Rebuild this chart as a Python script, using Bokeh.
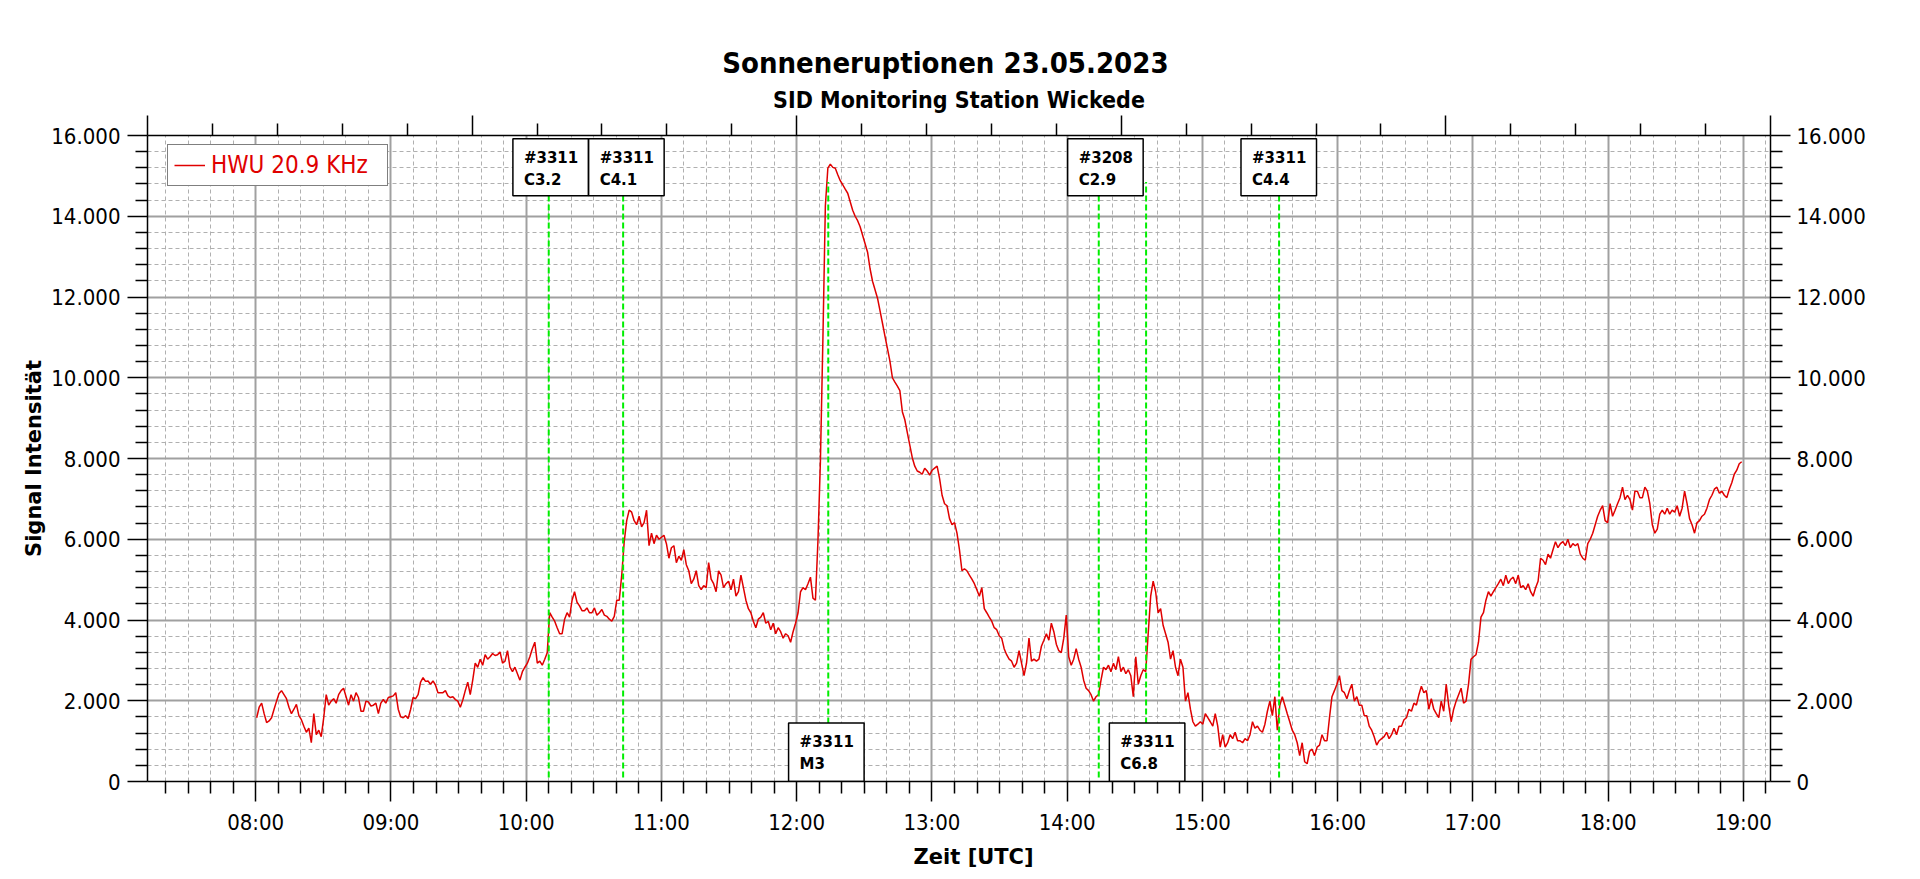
import numpy as np
from bokeh.plotting import figure
from bokeh.models import (Range1d, LinearAxis, FixedTicker, Legend, LegendItem, Title,
                          ColumnDataSource)
from bokeh.core.properties import value
from bokeh.embed import file_html
from bokeh.resources import INLINE

FONT = "DejaVu Sans Condensed"
BFONT = "DejaVu Sans"
RED = "#e00000"
GREEN = "#00ee00"

# ---------------- data ----------------
# HWU 20.9 kHz signal, sampled every ~66 s starting 08:00:26 UTC
sample_start = "08:00:26"
sample_step_s = 66.1
signal_hwu = [
    1580, 1840, 1940, 1680, 1460, 1500, 1580, 1790, 1990, 2180,
    2250, 2150, 2050, 1840, 1680, 1790, 1910, 1630, 1530, 1370,
    1220, 1320, 960, 1680, 1160, 1270, 1110, 1580, 2150, 1890,
    1990, 2050, 1940, 2150, 2250, 2310, 2100, 1890, 2150, 1990,
    2200, 2080, 1740, 1740, 1990, 1970, 1870, 1890, 1940, 1680,
    1940, 2030, 1940, 2080, 2100, 2120, 2200, 1790, 1600, 1580,
    1630, 1560, 1790, 2080, 2050, 2150, 2460, 2570, 2480, 2490,
    2410, 2490, 2390, 2200, 2200, 2200, 2250, 2120, 2080, 2100,
    2030, 1990, 1840, 2020, 2250, 2460, 2150, 2510, 2930, 2830,
    3030, 2880, 3140, 3030, 3090, 3170, 3120, 3140, 3210, 2930,
    2980, 3240, 2830, 2720, 2830, 2670, 2510, 2720, 2830, 2930,
    3090, 3290, 3450, 2930, 2980, 2880, 3030, 3190, 4180, 4070,
    3970, 3810, 3660, 3660, 4020, 4180, 4070, 4490, 4700, 4440,
    4350, 4230, 4230, 4300, 4180, 4180, 4300, 4120, 4180, 4260,
    4120, 4090, 4020, 3970, 4090, 4490, 4490, 5110, 5940, 6460,
    6720, 6670, 6460, 6360, 6570, 6310, 6410, 6720, 5840, 6150,
    5890, 6100, 6000, 6050, 6100, 5890, 5530, 5790, 5840, 5420,
    5580, 5480, 5740, 5370, 5220, 4900, 5010, 5220, 4850, 4750,
    4850, 4800, 5420, 5010, 4900, 4700, 5220, 5110, 4800, 4900,
    4960, 4750, 5010, 4590, 4700, 5110, 4800, 4490, 4280, 4180,
    3970, 3810, 4020, 4070, 4180, 3920, 3970, 3760, 3920, 3660,
    3810, 3710, 3550, 3660, 3610, 3450, 3710, 3920, 4180, 4700,
    4800, 4750, 4900, 5060, 4540, 4490, 5940, 7920, 10930, 14260,
    15190, 15290, 15210, 15190, 15030, 14880, 14780, 14670, 14570, 14360,
    14150, 14000, 13890, 13740, 13530, 13320, 13110, 12700, 12390, 12180,
    11970, 11660, 11350, 11030, 10720, 10410, 10000, 9890, 9790, 9680,
    9160, 8960, 8640, 8330, 8020, 7810, 7690, 7660, 7610, 7760,
    7690, 7590, 7710, 7760, 7810, 7500, 7090, 6880, 6830, 6510,
    6360, 6410, 6150, 5740, 5220, 5270, 5220, 5110, 5010, 4900,
    4750, 4590, 4800, 4280, 4180, 4070, 3970, 3810, 3760, 3610,
    3550, 3290, 3140, 3030, 2980, 2830, 2930, 3240, 2930, 2620,
    2930, 3550, 2980, 3030, 2980, 3030, 3350, 3500, 3660, 3500,
    3920, 3710, 3400, 3240, 3190, 3550, 4120, 3090, 2880, 3030,
    3290, 3030, 2830, 2510, 2310, 2250, 2150, 1990, 2100, 2150,
    2510, 2830, 2770, 2880, 2720, 2930, 2770, 3090, 2720, 2830,
    2670, 2770, 2620, 2100, 3090, 2410, 2620, 2770, 2720, 3660,
    4590, 4960, 4700, 4180, 4280, 3870, 3660, 3450, 3030, 3240,
    2830, 2620, 3030, 2830, 1990, 2200, 1790, 1480, 1370, 1420,
    1480, 1420, 1680, 1580, 1480, 1370, 1680, 1370, 850, 1160,
    850, 960, 1160, 1060, 1220, 1010, 1010, 960, 1060, 1010,
    1160, 1480, 1320, 1370, 1270, 1220, 1420, 1740, 1990, 1630,
    2100, 1270, 1890, 2100, 1890, 1680, 1480, 1270, 1160, 960,
    640, 960, 490, 440, 750, 800, 640, 850, 900, 1160,
    1010, 1010, 1580, 2100, 2250, 2410, 2620, 2250, 2200, 2050,
    2250, 2410, 1990, 2100, 1890, 1890, 1630, 1630, 1370, 1270,
    1110, 900, 1010, 1060, 1110, 1220, 1060, 1160, 1320, 1160,
    1370, 1370, 1530, 1580, 1790, 1740, 1940, 1890, 2150, 2360,
    2200, 2250, 1790, 2050, 1790, 1680, 1580, 1990, 1740, 2410,
    1890, 1480, 1790, 1990, 2150, 2310, 1940, 1990, 2410, 3030,
    3090, 3140, 3450, 4070, 4180, 4490, 4700, 4590, 4700, 4800,
    4900, 5010, 4850, 5110, 4900, 5010, 5060, 4900, 5110, 4800,
    4850, 4750, 4900, 4700, 4590, 4800, 4960, 5530, 5480, 5370,
    5630, 5530, 5740, 5940, 5790, 5890, 5940, 5840, 6000, 5790,
    5890, 5840, 5890, 5630, 5530, 5480, 5890, 6000, 6150, 6360,
    6570, 6720, 6830, 6460, 6410, 6880, 6570, 6720, 6880, 7030,
    7290, 6980, 7090, 6980, 6720, 7190, 7190, 7030, 7030, 7290,
    7190, 6880, 6360, 6150, 6250, 6620, 6720, 6620, 6770, 6620,
    6720, 6670, 6830, 6570, 6770, 7190, 6880, 6510, 6360, 6150,
    6410, 6460, 6570, 6620, 6770, 6980, 7090, 7240, 7290, 7140,
    7190, 7090, 7030, 7240, 7400, 7610, 7710, 7870, 7920,
]
series_label = "HWU 20.9 KHz"

hour_ticks = list(range(8, 20))
hour_labels = [f"{h:02d}:00" for h in hour_ticks]
y_ticks = list(range(0, 16001, 2000))
y_labels = [f"{v:,}".replace(",", ".") for v in y_ticks]

flare_times = ["10:10", "10:43", "12:14", "14:14", "14:35", "15:34"]
flare_regions = ["#3311", "#3311", "#3311", "#3208", "#3311", "#3311"]
flare_classes = ["C3.2", "C4.1", "M3", "C2.9", "C6.8", "C4.4"]

# annotation-box layout (not data)
box_row = ["top", "top", "bottom", "top", "bottom", "top"]
box_lead_min = [15.9, 15.3, 17.6, 13.8, 16.3, 16.9]
box_width_min = 33.5


def hm(s):
    parts = [float(x) for x in s.split(":")]
    h = parts[0] + parts[1] / 60.0
    if len(parts) > 2:
        h += parts[2] / 3600.0
    return h


t0 = hm(sample_start)
times_h = t0 + np.arange(len(signal_hwu)) * sample_step_s / 3600.0
flare_h = [hm(s) for s in flare_times]

# ---------------- figure ----------------
W, H = 1912, 871
p = figure(width=W, height=H, output_backend="svg", toolbar_location=None,
           x_range=Range1d(7.2, 19.2), y_range=Range1d(0, 16000),
           title=None, min_border_left=147, min_border_right=W - 1770,
           min_border_top=135, min_border_bottom=H - 782)
p.outline_line_color = None
p.background_fill_color = "white"

x_minor = [k / 6 for k in range(44, 116) if k % 6 != 0]
xticker = FixedTicker(ticks=hour_ticks, minor_ticks=x_minor)
y_minor = [v for v in range(0, 16001, 400) if v % 2000 != 0]
yticker = FixedTicker(ticks=y_ticks, minor_ticks=y_minor)


def style_axis(ax, size="22px"):
    ax.axis_line_color = "black"
    ax.axis_line_width = 1.5
    ax.major_tick_line_color = "black"
    ax.major_tick_line_width = 1.5
    ax.minor_tick_line_color = "black"
    ax.minor_tick_line_width = 1.5
    ax.major_tick_in = 0
    ax.major_tick_out = 20
    ax.minor_tick_in = 0
    ax.minor_tick_out = 12
    ax.major_label_text_font = FONT
    ax.major_label_text_font_size = size
    ax.major_label_text_color = "black"


xa = p.xaxis[0]
xa.ticker = xticker
xa.major_label_overrides = {h: l for h, l in zip(hour_ticks, hour_labels)}
style_axis(xa)
xa.major_label_standoff = 8
xa.axis_label = "\u00a0\u00a0\u00a0\u00a0Zeit [UTC]"
xa.axis_label_text_font = BFONT
xa.axis_label_text_font_size = "21px"
xa.axis_label_text_font_style = "bold"
xa.axis_label_text_color = "black"
xa.axis_label_standoff = 7

ya = p.yaxis[0]
ya.ticker = yticker
ya.major_label_overrides = {v: l for v, l in zip(y_ticks, y_labels)}
style_axis(ya)
ya.major_label_standoff = 7
ya.axis_label = "Signal Intensität"
ya.axis_label_text_font = BFONT
ya.axis_label_text_font_size = "21px"
ya.axis_label_text_font_style = "bold"
ya.axis_label_text_color = "black"
ya.axis_label_standoff = 2

yr = LinearAxis(ticker=yticker)
yr.major_label_overrides = {v: l for v, l in zip(y_ticks, y_labels)}
style_axis(yr)
yr.major_label_standoff = 6
p.add_layout(yr, "right")

p.extra_x_ranges = {"top": Range1d(0, 5)}
xt = LinearAxis(x_range_name="top",
                ticker=FixedTicker(ticks=[0, 1, 2, 3, 4, 5],
                                   minor_ticks=[k * 0.2 for k in range(26) if k % 5 != 0]))
style_axis(xt, size="1px")
xt.major_label_text_color = None
xt.major_label_standoff = 0
p.add_layout(xt, "above")

for g, tk in ((p.xgrid[0], xticker), (p.ygrid[0], yticker)):
    g.ticker = tk
    g.grid_line_color = "#a0a0a0"
    g.grid_line_width = 2
    g.minor_grid_line_color = "#b0b0b0"
    g.minor_grid_line_width = 1
    g.minor_grid_line_dash = "4 3"

p.add_layout(Title(text="SID Monitoring Station Wickede", align="center",
                   text_font=FONT, text_font_size="23px", text_font_style="bold",
                   text_color="black", standoff=5), "above")
p.add_layout(Title(text="Sonneneruptionen 23.05.2023\u00a0\u00a0\u00a0", align="center",
                   text_font=FONT, text_font_size="29px", text_font_style="bold",
                   text_color="black", standoff=6), "above")

# ---------------- glyphs ----------------
line_r = p.line(times_h, signal_hwu, line_color=RED, line_width=1.5)

p.segment(x0=flare_h, y0=[100] * len(flare_h), x1=flare_h, y1=[14850] * len(flare_h),
          line_color=GREEN, line_width=2, line_dash="6 3")

box_top_val = {"top": 15920, "bottom": 1450}
box_bot_val = {"top": 14510, "bottom": 0}
left = [f - lead / 60 for f, lead in zip(flare_h, box_lead_min)]
right = [l + box_width_min / 60 for l in left]
tops = [box_top_val[r] for r in box_row]
bots = [box_bot_val[r] for r in box_row]
src = ColumnDataSource(dict(left=left, right=right, top=tops, bottom=bots,
                            region=flare_regions, cls=flare_classes))
p.quad(left="left", right="right", top="top", bottom="bottom", source=src,
       fill_color="white", line_color="black", line_width=1.5)
p.text(x="left", y="top", text="region", source=src, x_offset=11, y_offset=19,
       text_font=value(BFONT), text_font_style="bold", text_font_size="15px",
       text_baseline="alphabetic", text_color="black")
p.text(x="left", y="top", text="cls", source=src, x_offset=11, y_offset=41,
       text_font=value(BFONT), text_font_style="bold", text_font_size="15px",
       text_baseline="alphabetic", text_color="black")

legend = Legend(items=[LegendItem(label=series_label, renderers=[line_r])],
                location=(20, 595), margin=0, padding=6, spacing=0,
                glyph_width=31, glyph_height=22, label_standoff=6,
                label_text_font=FONT, label_text_font_size="24px",
                label_text_color=RED, label_height=22, label_width=170,
                border_line_color="black", border_line_width=1,
                background_fill_color="white", background_fill_alpha=1)
p.add_layout(legend)

open("out.html", "w").write(file_html(p, INLINE))
